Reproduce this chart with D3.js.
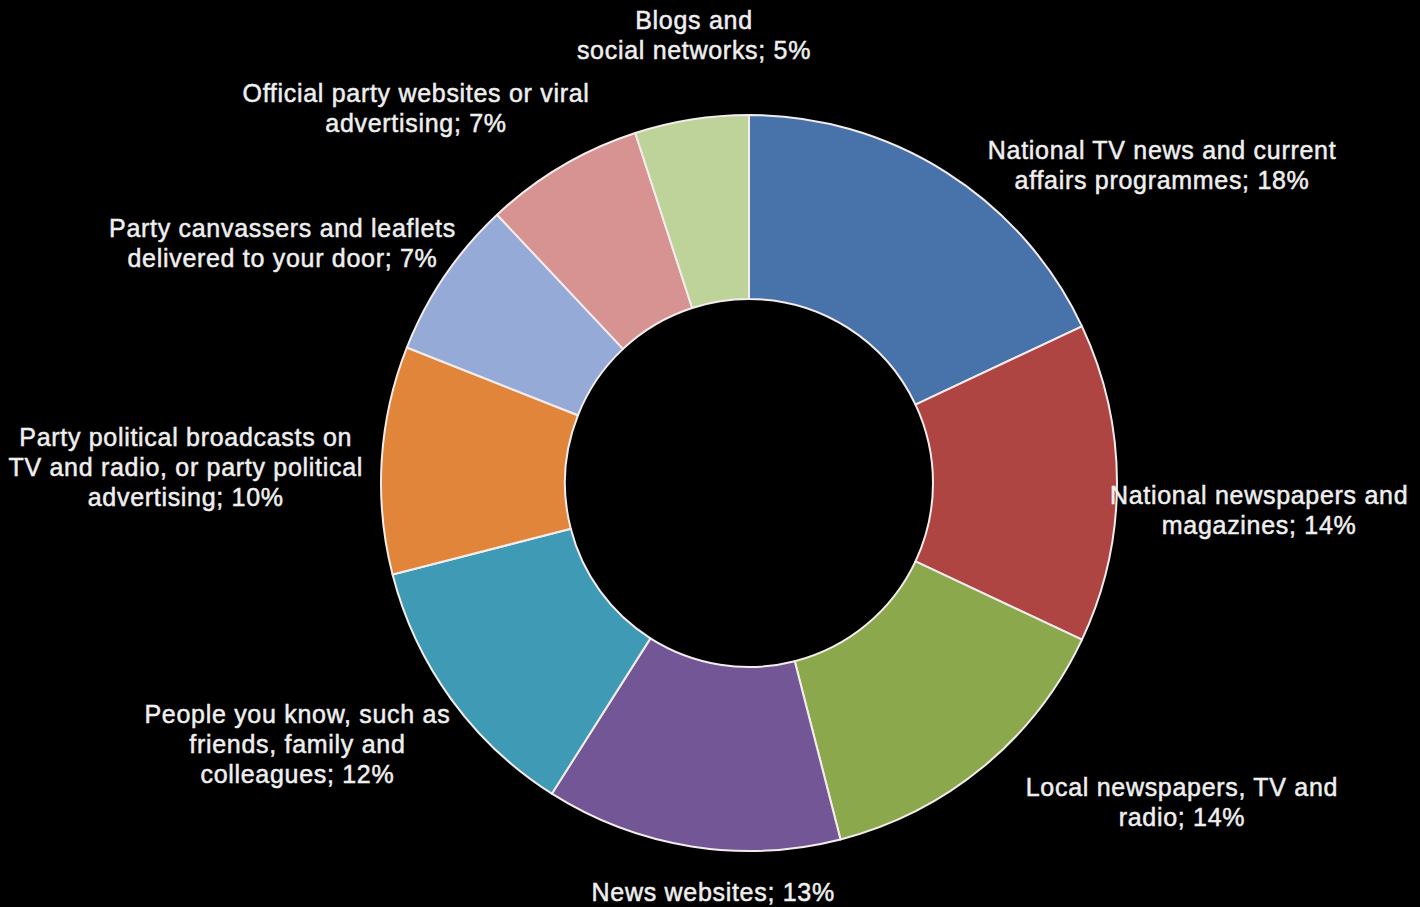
<!DOCTYPE html>
<html>
<head>
<meta charset="utf-8">
<script src="https://cdn.jsdelivr.net/npm/d3@7"></script>
<style>
  html, body { margin: 0; padding: 0; background: #000; }
  svg { display: block; }
</style>
</head>
<body>
<div id="donut_chart"></div>
<script>
// data, clockwise from 12 o'clock
var categories = [
  "National TV news and current affairs programmes",
  "National newspapers and magazines",
  "Local newspapers, TV and radio",
  "News websites",
  "People you know, such as friends, family and colleagues",
  "Party political broadcasts on TV and radio, or party political advertising",
  "Party canvassers and leaflets delivered to your door",
  "Official party websites or viral advertising",
  "Blogs and social networks"
];
var values = [18, 14, 14, 13, 12, 10, 7, 7, 5];
var colors = ["#4773aa", "#ae4542", "#8ba94c", "#735696", "#3f9ab5",
              "#e0853a", "#95aad6", "#d69392", "#bdd39a"];
// how each label is broken into lines (the percentage is added to the last)
var labelLines = [
  ["National TV news and current", "affairs programmes"],
  ["National newspapers and", "magazines"],
  ["Local newspapers, TV and", "radio"],
  ["News websites"],
  ["People you know, such as", "friends, family and", "colleagues"],
  ["Party political broadcasts on", "TV and radio, or party political", "advertising"],
  ["Party canvassers and leaflets", "delivered to your door"],
  ["Official party websites or viral", "advertising"],
  ["Blogs and", "social networks"]
];

// label placement tweaks: turn from the slice middle (deg) and gap from the ring
var labelTurn = [20, 3, -14, -4, 6, -2, -7, -11, 2];
var labelGap  = [7, -7, 33, 27, 1, 18, -7, 13, 51];

var width = 1420, height = 907,
    cx = 749, cy = 483,
    outerR = 368, innerR = 184,
    lineH = 30;

var svg = d3.select("#donut_chart")
  .append("svg")
    .attr("width", width)
    .attr("height", height);

svg.append("rect")
    .attr("width", width)
    .attr("height", height)
    .attr("fill", "#000");

var pie = d3.pie().sort(null).value(function(d) { return d; });
var arcs = pie(values);

var arc = d3.arc()
    .innerRadius(innerR)
    .outerRadius(outerR);

var g = svg.append("g")
    .attr("transform", "translate(" + cx + "," + cy + ")");

g.selectAll("path")
  .data(arcs)
  .enter()
  .append("path")
    .attr("d", arc)
    .attr("fill", function(d, i) { return colors[i]; })
    .attr("stroke", "#f4ecec")
    .attr("stroke-width", 2)
    .attr("stroke-linejoin", "round");

// labels
var labels = g.selectAll("g.lbl")
  .data(arcs)
  .enter()
  .append("g")
    .attr("class", "lbl");

var texts = labels.append("text")
    .attr("text-anchor", "middle")
    .style("font-family", "'Liberation Sans', Arial, sans-serif")
    .style("font-size", "25px")
    .style("letter-spacing", "0.7px")
    .attr("fill", "#efefef")
    .attr("stroke", "#efefef")
    .attr("stroke-width", 0.5);

texts.each(function(d, i) {
  var lines = labelLines[i].slice();
  lines[lines.length - 1] += "; " + values[i] + "%";
  var t = d3.select(this);
  lines.forEach(function(s, k) {
    t.append("tspan")
      .attr("x", 0)
      .attr("y", k * lineH)
      .text(s);
  });
});

// push each label box out along its angle until it clears the ring
labels.each(function(d, i) {
  var box = this.getBBox();
  var a = (d.startAngle + d.endAngle) / 2 + labelTurn[i] * Math.PI / 180;
  var ux = Math.sin(a), uy = -Math.cos(a);
  var target = outerR + labelGap[i];
  function nearest(dist) {
    var nx = Math.max(0, Math.abs(dist * ux) - box.width / 2);
    var ny = Math.max(0, Math.abs(dist * uy) - box.height / 2);
    return Math.sqrt(nx * nx + ny * ny);
  }
  var lo = 0, hi = 1200;
  for (var k = 0; k < 60; k++) {
    var mid = (lo + hi) / 2;
    if (nearest(mid) < target) lo = mid; else hi = mid;
  }
  var px = hi * ux, py = hi * uy;
  var bx = box.x + box.width / 2, by = box.y + box.height / 2;
  d3.select(this).attr("transform",
      "translate(" + (px - bx) + "," + (py - by) + ")");
});
</script>
</body>
</html>
